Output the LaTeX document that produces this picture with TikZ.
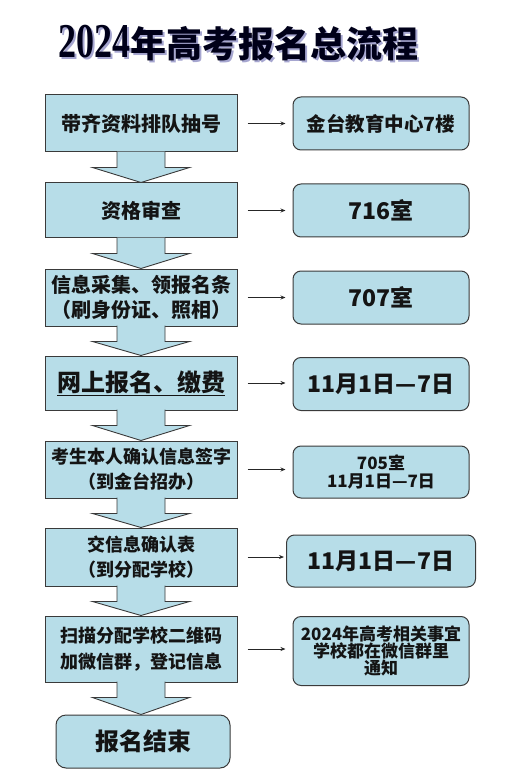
\documentclass[tikz,border=0pt]{standalone}
\usepackage{fontspec}
\usepackage{graphicx}
\setmainfont{Noto Sans CJK SC}
\newfontfamily\titlenum{Liberation Serif}
\usepackage{tikz}
\usetikzlibrary{arrows.meta,calc,positioning}
\definecolor{stepfill}{HTML}{B7DDE8}
\definecolor{stepline}{HTML}{3A3A3A}
\definecolor{titleshade}{HTML}{8080BC}

% block arrow from the bottom of one step to the top of the next
\newcommand\flowdown[2]{%
  \draw[stepline,line width=.9pt,fill=stepfill]
    ([xshift=-24pt,yshift=.8pt]#1.south) -- ([xshift=-24pt,yshift=-15pt]#1.south)
    -- ([xshift=-48.5pt,yshift=-15pt]#1.south) -- (#1.south |- #2.north)
    -- ([xshift=48.5pt,yshift=-15pt]#1.south) -- ([xshift=24pt,yshift=-15pt]#1.south)
    -- ([xshift=24pt,yshift=.8pt]#1.south);}

\begin{document}
\begin{tikzpicture}[x=1pt,y=-1pt,
  lbox/.style={draw=stepline,line width=1pt,fill=stepfill,minimum width=192pt,
               inner sep=0pt,align=center,text=black!92},
  rbox/.style={lbox,rounded corners=8pt,minimum width=176pt,minimum height=53pt},
  fa/.style={font=\fontsize{20}{25}\selectfont\bfseries},
  fb/.style={font=\fontsize{18}{25}\selectfont\bfseries},
  fc/.style={font=\fontsize{24}{28}\selectfont\bfseries},
  fd/.style={font=\fontsize{23}{27}\selectfont\bfseries},
  heading/.style={anchor=base,font=\fontsize{36}{40}\selectfont\bfseries},
  link/.style={-{Stealth[length=5pt,width=4pt]},line width=.8pt,black!85,
               shorten <=10pt,shorten >=7pt},
  node distance=30pt]
  \useasboundingbox (0,0) rectangle (509,775);
  % title with its shadow
  \node[heading,text=titleshade,opacity=.7] (shade) at (240.5,59.5)
    {\titlenum\scalebox{1}[1.35]{2024}\normalfont\bfseries 年高考报名总流程};
  \node[heading,text=black!90!blue] (title) at (238.5,57.5)
    {\titlenum\scalebox{1}[1.35]{2024}\normalfont\bfseries 年高考报名总流程};
  % left column
  \node[lbox,fa,minimum height=57pt] (L1) at (141,123.5) {带齐资料排队抽号};
  \node[lbox,fa,minimum height=55pt,below=of L1] (L2) {资格审查};
  \node[lbox,fa,minimum height=57pt,below=of L2] (L3) {信息采集、领报名条\\（刷身份证、照相）};
  \node[lbox,fc,minimum height=54pt,below=29pt of L3] (L4) {\underline{网上报名、缴费}};
  \node[lbox,fb,minimum height=57pt,below=of L4] (L5) {考生本人确认信息签字\\（到金台招办）};
  \node[lbox,fb,minimum height=58pt,below=29pt of L5] (L6) {交信息确认表\\（到分配学校）};
  \node[lbox,fb,minimum height=66pt,below=29pt of L6,font=\fontsize{18}{26}\selectfont\bfseries]
    (L7) {扫描分配学校二维码\\加微信群，登记信息};
  \node[lbox,fc,rounded corners=10pt,minimum width=174pt,minimum height=53pt,
        below=32pt of L7,xshift=2pt] (done) {报名结束};
  \foreach \a/\b in {L1/L2,L2/L3,L3/L4,L4/L5,L5/L6,L6/L7,L7/done}
    {\flowdown{\a}{\b}}
  % right column
  \coordinate (rx) at (381,0);
  \node[rbox,font=\fontsize{19.5}{23}\selectfont\bfseries] (R1) at (L1 -| rx) {金台教育中心7楼};
  \node[rbox,fd] (R2) at (L2 -| rx) {716室};
  \node[rbox,fd] (R3) at (L3 -| rx) {707室};
  \node[rbox,fd] (R4) at ([yshift=-1pt]L4 -| rx) {11月1日—7日};
  \node[rbox,minimum height=52pt,font=\fontsize{17}{18}\selectfont\bfseries]
    (R5) at ([yshift=-2.5pt]L5 -| rx) {705室\\11月1日—7日};
  \node[rbox,fd,minimum width=189pt,minimum height=52pt] (R6) at ([yshift=-4pt]L6 -| rx) {11月1日—7日};
  \node[rbox,minimum height=69pt,font=\fontsize{17}{17}\selectfont\bfseries]
    (R7) at ([yshift=-2pt]L7 -| rx) {2024年高考相关事宜\\学校都在微信群里\\通知};
  \foreach \s/\t in {L1/R1,L2/R2,L3/R3,L4/R4,L5/R5,L7/R7}
    {\draw[link] (\s.east) -- (\s.east -| \t.west);}
  \draw[link,shorten >=2pt] (L6.east) -- (L6.east -| R6.west);
\end{tikzpicture}
\end{document}
